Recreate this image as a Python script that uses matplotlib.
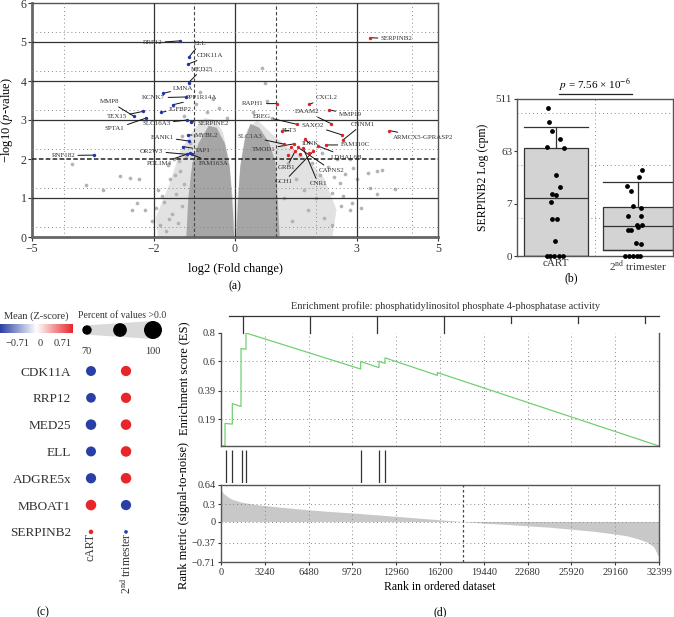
import numpy as np
import matplotlib
matplotlib.use("Agg")
import matplotlib.pyplot as plt
from matplotlib.colors import LinearSegmentedColormap
from matplotlib.patches import Polygon

plt.rcParams['font.family'] = ['Liberation Serif', 'DejaVu Serif']
plt.rcParams['mathtext.fontset'] = 'stix'

# ---------------- data: (a) volcano ----------------
# dense cloud outlines (log2 FC, -log10 p)
core_left_x = [-0.02, -1.2, -1.15, -1.05, -0.9, -0.65, -0.45, -0.25, -0.13, -0.06]
core_left_y = [0.0, 0.0, 1.0, 1.9, 2.4, 2.85, 2.8, 2.4, 1.8, 0.8]
core_right_x = [0.03, 1.1, 1.05, 1.0, 0.85, 0.6, 0.38, 0.24, 0.13, 0.07]
core_right_y = [0.0, 0.0, 1.0, 1.9, 2.4, 2.8, 2.9, 2.5, 1.8, 0.8]
halo_left_x = [0.0, -1.9, -1.95, -1.6, -1.35, -1.05, -0.75, -0.5, -0.3, -0.15, -0.05]
halo_left_y = [0.0, 0.0, 0.5, 1.4, 2.2, 2.7, 3.05, 3.0, 2.7, 2.0, 1.0]
halo_right_x = [0.0, 2.4, 2.5, 2.2, 1.8, 1.3, 0.9, 0.55, 0.3, 0.15, 0.06]
halo_right_y = [0.0, 0.0, 0.7, 1.5, 2.0, 2.3, 2.65, 3.0, 2.75, 2.0, 1.0]

# scattered grey genes
grey_x = [-4.02, -3.67, -3.26, -2.83, -2.59, -2.36, -2.42, -2.54, -2.22, -2.05, -1.9, -1.75,
          -1.6, -1.85, -1.7, -1.55, -1.45, -1.35, -1.5, -1.3, -1.25, -0.86, -0.95, -0.7, -0.4,
          -1.65, -1.95, -1.4, -1.3, -1.25, -1.2, -1.12, -1.8, -1.62, -1.48, -1.38,
          3.28, 3.49, 3.61, 3.33, 3.1, 3.5, 3.94, 2.83, 2.87, 2.67, 2.59, 2.91, 2.83, 2.71,
          2.38, 2.2, 2.4, 2.1, 2.3, 1.9, 1.7, 1.5, 1.4, 1.8, 2.0, 1.6, 1.3, 1.2, 2.5, 2.6,
          2.15, 3.0, 2.45, 0.66, 0.74, 0.78, 0.45, 0.9, -0.55, -0.2]
grey_y = [1.86, 1.33, 1.2, 1.56, 1.52, 1.5, 0.88, 0.68, 0.68, 0.41, 1.2, 0.9,
          1.5, 0.3, 0.15, 0.6, 1.1, 1.7, 2.0, 2.6, 3.1, 3.73, 3.4, 3.2, 3.3,
          1.85, 0.75, 0.35, 0.8, 1.35, 2.05, 2.4, 1.05, 0.45, 1.6, 1.95,
          1.63, 1.69, 1.71, 1.26, 0.75, 1.11, 1.22, 0.68, 0.88, 1.05, 1.39, 1.78, 1.99, 1.61,
          1.14, 0.5, 0.3, 1.6, 1.8, 1.9, 1.2, 1.5, 0.4, 0.7, 1.0, 2.1, 1.9, 1.0, 2.0, 0.8,
          2.15, 1.5, 1.55, 4.34, 3.96, 3.49, 3.2, 3.05, 3.55, 3.05]

blue_genes = ["RRP12", "ELL", "CDK11A", "MED25", "LMNA", "KCNK7", "PPP1R14A", "IGFBP2",
              "MMP8", "TEX15", "SPTA1", "SLC16A3", "SERPINE2", "BANK1", "MYBL2", "TAP1",
              "OR2W3", "PDLIM4", "FAM163A", "RNF182"]
blue_fc = [-1.35, -1.13, -1.16, -1.14, -1.78, -1.21, -1.53, -1.82, -2.48, -2.27, -2.19,
           -1.17, -1.09, -1.13, -1.15, -1.29, -1.19, -1.11, -1.07, -3.47]
blue_p = [5.03, 4.62, 4.43, 3.96, 3.68, 3.59, 3.39, 3.2, 3.09, 3.22, 3.05, 3.0, 2.96,
          2.46, 2.62, 2.32, 2.12, 2.15, 2.12, 2.1]

red_genes = ["SERPINB2", "ARMCX5-GPRASP2", "CXCL2", "MMP19", "DAAM2", "SAXO2", "CNNM1",
             "FAM110C", "LDHAL6B", "CAPNS2", "RAPH1", "EREG", "FLT3", "SLC1A3", "TMOD1",
             "IDNK", "GRB1", "GCH1", "CNR1"]
red_fc = [3.33, 3.8, 1.82, 2.32, 2.36, 2.63, 2.65, 2.24, 2.05, 1.55, 1.04, 1.52, 1.15,
          1.21, 1.46, 1.72, 1.48, 1.93, 1.68]
red_p = [5.11, 2.73, 3.4, 3.26, 2.91, 2.62, 2.48, 2.36, 2.33, 2.3, 3.42, 2.89, 2.72,
         2.38, 2.39, 2.51, 2.2, 2.2, 2.28]
red_extra_fc = [1.37, 1.3, 1.6, 1.82]
red_extra_p = [2.31, 2.1, 2.12, 2.15]

# label placement (layout)
blue_lab = [(-2.03, 4.98), (-0.86, 4.96), (-0.62, 4.66), (-0.82, 4.3), (-1.27, 3.81),
            (-2.0, 3.57), (-0.82, 3.57), (-1.35, 3.27), (-3.08, 3.47), (-2.91, 3.08),
            (-2.96, 2.77), (-1.93, 2.91), (-0.53, 2.9), (-1.8, 2.56), (-0.7, 2.59),
            (-0.78, 2.23), (-2.05, 2.2), (-1.86, 1.88), (-0.53, 1.89), (-4.23, 2.09)]
red_lab = [(3.98, 5.08), (4.64, 2.55), (2.26, 3.57), (2.83, 3.15), (1.77, 3.21),
           (1.91, 2.86), (3.14, 2.89), (2.96, 2.36), (2.75, 2.05), (2.38, 1.71),
           (0.44, 3.42), (0.66, 3.1), (1.33, 2.73), (0.37, 2.57), (0.7, 2.25),
           (1.85, 2.39), (1.27, 1.78), (1.21, 1.42), (2.05, 1.37)]

# ---------------- data: (b) box plot, log2(cpm + 1) ----------------
groups_b = ["cART", "2$^{\\mathrm{nd}}$ trimester"]
cart_log = [8.5, 7.68, 7.16, 6.69, 6.23, 6.2, 4.67, 3.94, 3.56, 3.49, 3.09, 2.13, 2.1, 0.84,
            0, 0, 0, 0, 0]
cart_jit = [-0.107, -0.086, -0.047, 0.051, -0.115, 0.103, -0.004, 0.055, -0.047, 0.0,
            -0.064, -0.051, 0.013, -0.009, -0.115, -0.073, -0.022, 0.034, 0.09]
tri_log = [4.91, 4.51, 4.02, 3.71, 2.86, 2.78, 2.29, 2.29, 1.75, 1.68, 1.75, 1.5, 1.5,
           0.76, 0.67, 0, 0, 0, 0, 0]
tri_jit = [0.055, 0.013, -0.145, -0.09, -0.068, 0.042, -0.132, 0.042, -0.017, 0.004, 0.055,
           -0.132, -0.086, -0.03, 0.038, -0.167, -0.12, -0.06, -0.017, 0.026]
box_q1 = [0.0, 0.34]
box_med = [3.3, 1.7]
box_q3 = [6.17, 2.8]
box_hi = [7.4, 4.23]
b_ticks = [0, 3, 6, 9]
b_ticklabels = ["0", "7", "63", "511"]

# ---------------- data: (c) dot plot ----------------
dot_genes = ["CDK11A", "RRP12", "MED25", "ELL", "ADGRE5x", "MBOAT1", "SERPINB2"]
dot_groups = ["cART", "2$^{\\mathrm{nd}}$ trimester"]
dot_mean = [[-0.71, 0.71], [-0.71, 0.71], [-0.71, 0.71], [-0.71, 0.71], [-0.71, 0.71],
            [0.71, -0.71], [0.71, -0.71]]
dot_pct = [[72, 73], [71, 73], [74, 74], [72, 74], [73, 74], [74, 73], [53, 50]]
legend_pcts = [70, 85, 100]
cbar_labels = ["\u22120.71", "0", "0.71"]

# ---------------- data: (d) GSEA ----------------
es_rank = [0, 296, 296, 838, 838, 1479, 1479, 1849, 1849, 10332, 10332, 11688, 11688,
           12131, 12131, 16003, 16003, 32399]
es_val = [0, 0, 0.16, 0.155, 0.30, 0.28, 0.69, 0.685, 0.80, 0.545, 0.598, 0.555, 0.60,
          0.585, 0.624, 0.50, 0.52, 0.0]
hit_rank = [345, 838, 1529, 1874, 10360, 11714, 12157]
rm_rank = [0, 150, 400, 800, 1500, 2500, 3240, 4860, 6480, 8100, 9720, 11340, 12960, 14580,
           16200, 17879, 19440, 21060, 22680, 24300, 25920, 27540, 29160, 30000, 30800,
           31500, 32000, 32399]
rm_val = [0.56, 0.5, 0.45, 0.39, 0.34, 0.3, 0.28, 0.24, 0.205, 0.175, 0.15, 0.12, 0.09,
          0.06, 0.03, 0.0, -0.03, -0.05, -0.075, -0.1, -0.135, -0.17, -0.22, -0.25, -0.3,
          -0.36, -0.44, -0.63]
zero_cross = 17879
d_xticks = [0, 3240, 6480, 9720, 12960, 16200, 19440, 22680, 25920, 29160, 32399]
top_ticks = [1627, 6583, 11539, 16495, 21451, 26407, 31363]

W, H = 674, 617


def box(l, t, r, b):
    return [l / W, 1 - b / H, (r - l) / W, (b - t) / H]


def ftext(x, y, s, **kw):
    kw.setdefault('ha', 'center')
    fig.text(x / W, 1 - y / H, s, va='center', **kw)


fig = plt.figure(figsize=(6.74, 6.17), dpi=100)

# ================= (a) =================
ax = fig.add_axes(box(32, 3, 438, 237))
ax.set_xlim(-5, 5)
ax.set_ylim(0, 6)
for px, py, col in [(halo_left_x, halo_left_y, '#e2e2e2'),
                    (halo_right_x, halo_right_y, '#e2e2e2'),
                    (core_left_x, core_left_y, '#a6a6a6'),
                    (core_right_x, core_right_y, '#a6a6a6')]:
    ax.add_patch(Polygon(np.column_stack([px, py]), closed=True, fc=col, ec='none',
                         zorder=1))
ax.scatter(grey_x, grey_y, s=7, c='#b3b3b3', lw=0, zorder=2)

for v in [-2, 0, 3]:
    ax.axvline(v, color='#333333', lw=0.9, zorder=3)
for v in [-1, 1]:
    ax.axvline(v, color='#444444', lw=0.8, ls=(0, (3, 2)), zorder=3)
for v in [-4.2, 2.0, 4.35]:
    ax.axvline(v, color='#888888', lw=0.7, ls=(0, (1, 3)), zorder=3)
for h in [1, 3, 4, 5]:
    ax.axhline(h, color='#333333', lw=0.9, zorder=3)
ax.axhline(2, color='#222222', lw=1.1, ls=(0, (3, 1.5)), zorder=3)
for h in [0.25, 1.25, 2.25, 3.25, 4.25, 5.25]:
    ax.axhline(h, color='#888888', lw=0.7, ls=(0, (1, 3)), zorder=3)

ax.scatter(blue_fc, blue_p, s=6, c='#2233aa', lw=0, zorder=6)
ax.scatter(red_fc, red_p, s=6, c='#dd2222', lw=0, zorder=6)
ax.scatter(red_extra_fc, red_extra_p, s=6, c='#dd2222', lw=0, zorder=6)
for g, x, y, (lx, ly) in zip(blue_genes + red_genes, blue_fc + red_fc,
                             blue_p + red_p, blue_lab + red_lab):
    ax.annotate(g, xy=(x, y), xytext=(lx, ly), fontsize=5, color='#333333',
                ha='center', va='center', zorder=5,
                arrowprops=dict(arrowstyle='-', color='#111111', lw=0.7,
                                shrinkA=0, shrinkB=0))

ax.set_xticks([-5, -2, 0, 3, 5])
ax.set_yticks(range(7))
ax.tick_params(labelsize=8.5, length=3, width=0.8, pad=1, colors='#333333')
for s in ['left', 'bottom']:
    ax.spines[s].set_linewidth(2)
    ax.spines[s].set_color('#666666')
for s in ['top', 'right']:
    ax.spines[s].set_linewidth(1)
    ax.spines[s].set_color('#555555')
ax.set_xlabel("log2 (Fold change)", fontsize=9, labelpad=6)
ax.set_ylabel("\u2212log10 ($p$-value)", fontsize=9, labelpad=4)
ftext(235, 286, "(a)", fontsize=8.5)

# ================= (b) =================
axb = fig.add_axes(box(517, 99, 673, 256))
stats = []
for i in range(2):
    stats.append(dict(med=box_med[i], q1=box_q1[i], q3=box_q3[i], whislo=box_q1[i],
                      whishi=box_hi[i], fliers=[]))
pos_b = [0, 1.05]
wid_b = [0.81, 0.9]
axb.bxp(stats, positions=pos_b, widths=wid_b, capwidths=wid_b, patch_artist=True,
        showfliers=False,
        boxprops=dict(facecolor='#d3d3d3', edgecolor='#333333', lw=0.9),
        medianprops=dict(color='#333333', lw=0.9),
        whiskerprops=dict(color='#333333', lw=0.9),
        capprops=dict(color='#333333', lw=0.9))
axb.scatter(np.array(cart_jit) + pos_b[0], cart_log, s=12, c='black', lw=0, zorder=5,
            clip_on=False)
axb.scatter(np.array(tri_jit) + pos_b[1], tri_log, s=12, c='black', lw=0, zorder=5,
            clip_on=False)
axb.set_xlim(-0.5, 1.5)
axb.set_ylim(0, 9)
axb.axvline(0.5, color='#888888', lw=0.7, ls=(0, (1, 3)), zorder=0)
for h in [2.2, 5.2, 8.2]:
    axb.axhline(h, color='#888888', lw=0.7, ls=(0, (1, 3)), zorder=0)
axb.set_yticks(b_ticks)
axb.set_yticklabels(b_ticklabels)
axb.set_xticks(pos_b)
axb.set_xticklabels(groups_b)
axb.tick_params(labelsize=8, length=2.5, width=0.8, pad=1, colors='#333333')
axb.tick_params(axis='x', length=0, pad=2)
for s in axb.spines.values():
    s.set_color('#555555')
    s.set_linewidth(1)
axb.set_ylabel("SERPINB2 Log (cpm)", fontsize=8.5, labelpad=5)
axb.plot([0.04, 0.97], [9.31, 9.31], color='#222222', lw=0.9, clip_on=False)
ftext(595, 85, "$p$ = 7.56 \u00d7 10$^{\u22126}$", fontsize=8)
ftext(571, 278, "(b)", fontsize=8.5)

# ================= (c) =================
cmap = LinearSegmentedColormap.from_list('bwr2', ['#2a3fa6', '#ffffff', '#e8252a'])


def pct_to_s(p):
    r = 4.7 + (np.asarray(p, float) - 70) * 4.3 / 30
    return (2 * r * 0.72) ** 2


axc = fig.add_axes(box(78, 358, 140, 541))
rows, cols = np.meshgrid(range(len(dot_genes)), range(len(dot_groups)), indexing='ij')
axc.scatter(cols.ravel(), rows.ravel(), s=pct_to_s(np.array(dot_pct).ravel()),
            c=np.array(dot_mean).ravel(), cmap=cmap, vmin=-0.71, vmax=0.71, lw=0)
axc.set_xlim(-0.371, 1.40)
axc.set_ylim(6.34, -0.485)
axc.set_yticks(range(len(dot_genes)))
axc.set_yticklabels(dot_genes)
axc.set_xticks(range(len(dot_groups)))
axc.set_xticklabels(dot_groups, rotation=90, va='top')
axc.tick_params(length=0, labelsize=9.5, pad=5, colors='#333333')
axc.tick_params(axis='x', pad=-6, labelsize=8.5)
for s in axc.spines.values():
    s.set_visible(False)

axcb = fig.add_axes(box(0, 324, 73, 333))
axcb.imshow(np.linspace(-0.71, 0.71, 256)[None, :], cmap=cmap, aspect='auto',
            extent=[-0.71, 0.71, 0, 1])
axcb.set_xticks([])
axcb.set_yticks([])
for s in axcb.spines.values():
    s.set_visible(False)
for lab, xp in zip(cbar_labels, [17, 40, 63]):
    ftext(xp, 343, lab, fontsize=7.5, color='#333333')
ftext(36, 316, "Mean (Z-score)", fontsize=7.5, color='#333333')

axl = fig.add_axes(box(80, 318, 165, 342))
axl.set_xlim(80, 165)
axl.set_ylim(342, 318)
axl.axis('off')
leg_x = [87, 120, 153]
leg_r = 4.7 + (np.array(legend_pcts) - 70) * 4.3 / 30
axl.add_patch(Polygon([[leg_x[0], 330 - leg_r[0]], [leg_x[2], 330 - leg_r[2]],
                       [leg_x[2], 330 + leg_r[2]], [leg_x[0], 330 + leg_r[0]]],
                      closed=True, fc='#d9d9d9', ec='none', clip_on=False))
axl.scatter(leg_x, [330] * 3, s=pct_to_s(legend_pcts), c='black', lw=0, clip_on=False)
ftext(122, 316, "Percent of values >0.0", fontsize=7, color='#333333')
ftext(87, 352, "70", fontsize=7.5, color='#333333')
ftext(153, 352, "100", fontsize=7.5, color='#333333')
ftext(43, 612, "(c)", fontsize=8.5)

# ================= (d) =================
ax_es = fig.add_axes(box(221, 333, 659, 446))
ax_es.plot(es_rank, es_val, color='#72d072', lw=0.9)
ax_es.set_xlim(0, 32399)
ax_es.set_ylim(0, 0.8)
ax_es.set_yticks([0.19, 0.39, 0.6, 0.8])
ax_es.set_yticklabels(["0.19", "0.39", "0.6", "0.8"])
ax_es.set_xticks(d_xticks)
ax_es.set_xticklabels([])
ax_es.tick_params(labelsize=7.5, length=2.5, width=0.8, pad=1.5, colors='#333333')
ax_es.tick_params(axis='x', length=0)
for v in d_xticks[1:-1]:
    ax_es.axvline(v, color='#888888', lw=0.7, ls=(0, (1, 3)), zorder=0)
for h in [0.19, 0.39, 0.6]:
    ax_es.axhline(h, color='#888888', lw=0.7, ls=(0, (1, 3)), zorder=0)
ax_es.spines['top'].set_visible(False)
for s in ['left', 'bottom', 'right']:
    ax_es.spines[s].set_color('#555555')
    ax_es.spines[s].set_linewidth(1)
tr = ax_es.get_xaxis_transform()
ax_es.plot([600, 32399], [1.15, 1.15], color='#333333', lw=0.9, transform=tr,
           clip_on=False)
for i, t in enumerate(top_ticks):
    ax_es.plot([t, t], [1.15, 1.0 if i < 4 else 1.085], color='#333333', lw=0.9,
               transform=tr, clip_on=False)
ax_es.set_ylabel("Enrichment score (ES)", fontsize=9)
ax_es.yaxis.set_label_coords(-0.07, 0.6)
ftext(446, 306, "Enrichment profile: phosphatidylinositol phosphate 4-phosphatase activity",
      fontsize=7.5, color='#333333')

ax_hit = fig.add_axes(box(221, 450, 659, 483))
ax_hit.vlines(hit_rank, 0, 1, color='#333333', lw=0.9)
ax_hit.set_xlim(0, 32399)
ax_hit.set_ylim(0, 1)
ax_hit.axis('off')

ax_rm = fig.add_axes(box(221, 485, 659, 562))
ax_rm.fill_between(rm_rank, 0, rm_val, color='#c8c8c8', lw=0)
ax_rm.set_xlim(0, 32399)
ax_rm.set_ylim(-0.71, 0.64)
ax_rm.set_yticks([0.64, 0.3, 0, -0.37, -0.71])
ax_rm.set_yticklabels(["0.64", "0.3", "0", "\u22120.37", "\u22120.71"])
ax_rm.set_xticks(d_xticks)
ax_rm.set_xticklabels([str(v) for v in d_xticks])
ax_rm.tick_params(labelsize=7.5, length=2.5, width=0.8, pad=1.5, colors='#333333')
for v in d_xticks[1:-1]:
    ax_rm.axvline(v, color='#888888', lw=0.7, ls=(0, (1, 3)), zorder=3)
for h in [0.3, 0, -0.37]:
    ax_rm.axhline(h, color='#888888', lw=0.7, ls=(0, (1, 3)), zorder=3)
ax_rm.axvline(zero_cross, color='#444444', lw=0.9, ls=(0, (2, 2)), zorder=4)
for s in ax_rm.spines.values():
    s.set_color('#555555')
    s.set_linewidth(1)
ax_rm.set_ylabel("Rank metric (signal-to-noise)", fontsize=9)
ax_rm.yaxis.set_label_coords(-0.07, 0.6)
ax_rm.set_xlabel("Rank in ordered dataset", fontsize=8.5, labelpad=3)
ftext(440, 612, "(d)", fontsize=8.5)

fig.savefig("out.png", dpi=100)
